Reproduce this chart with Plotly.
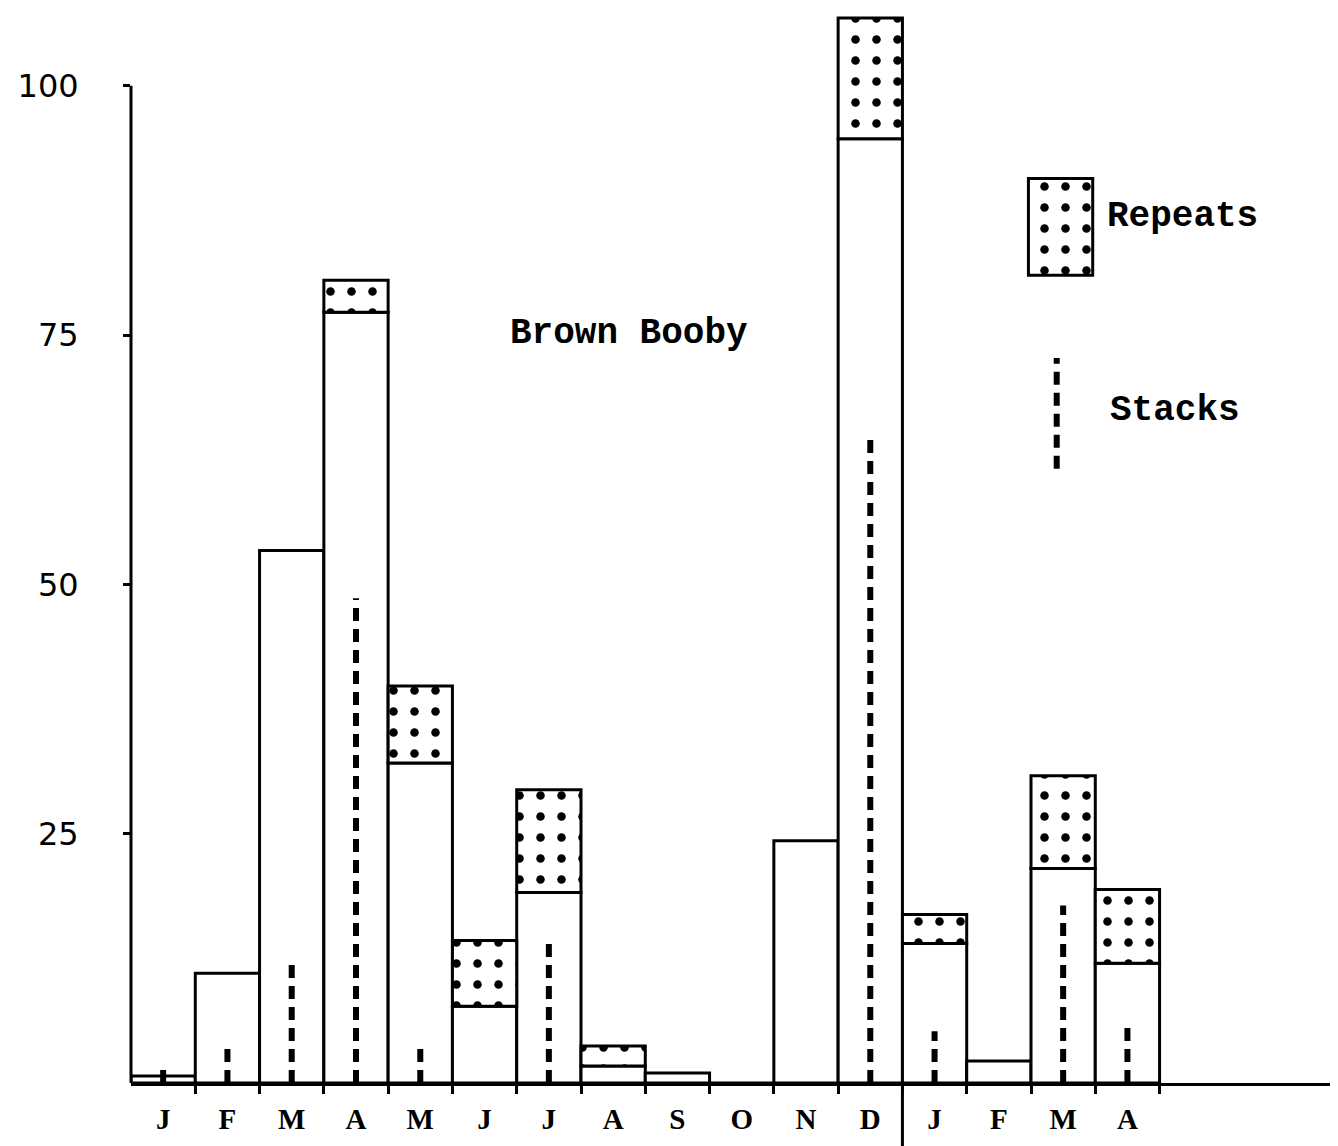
import plotly.graph_objects as go

months = ["J", "F", "M", "A", "M", "J", "J", "A", "S", "O", "N", "D", "J", "F", "M", "A"]
first_captures = [0.7, 11.0, 53.4, 77.3, 32.1, 7.7, 19.1, 1.7, 0.0, 0.0, 24.3, 94.7, 14.0, 2.2, 21.5, 12.0]
repeats = [0.0, 0.0, 0.0, 3.2, 7.7, 6.6, 10.3, 2.0, 1.0, 0.0, 0.0, 12.1, 2.9, 0.0, 9.3, 7.4]
stacks = [1.5, 4.2, 12.4, 48.6, 4.0, 0.0, 14.3, 0.0, 0.0, 0.0, 0.0, 64.7, 5.2, 0.0, 17.8, 6.2]
y_ticks = [25, 50, 75, 100]

xs = list(range(len(months)))
MONO = "Liberation Mono"
LW = 3
DOTS = dict(shape=".", fgcolor="black", bgcolor="white", fgopacity=1,
            size=21, solidity=0.13, fillmode="replace")
DASH = dict(color="black", width=6, dash="13px,8px")

fig = go.Figure()

# first captures (open bars)
fig.add_trace(go.Bar(
    x=xs, y=first_captures, width=1.0,
    marker=dict(color="white", line=dict(color="black", width=LW)),
    showlegend=False, cliponaxis=False,
))

# repeats (dotted) stacked on top
rx = [x for x, r in zip(xs, repeats) if r > 0]
ry = [r for r in repeats if r > 0]
rb = [b for b, r in zip(first_captures, repeats) if r > 0]
fig.add_trace(go.Bar(
    x=rx, y=ry, base=rb, width=1.0,
    marker=dict(color="white", line=dict(color="black", width=LW), pattern=DOTS),
    showlegend=False, cliponaxis=False,
))

# stacks (dashed verticals)
sx, sy = [], []
for x, s in zip(xs, stacks):
    if s > 0:
        sx += [x, x, None]
        sy += [0, s, None]
fig.add_trace(go.Scatter(
    x=sx, y=sy, mode="lines", line=DASH,
    showlegend=False, cliponaxis=False,
))

# legend key: Repeats box
fig.add_trace(go.Bar(
    x=[13.96], y=[9.7], base=[81.0], width=1.0,
    marker=dict(color="white", line=dict(color="black", width=LW), pattern=DOTS),
    showlegend=False,
))
# legend key: Stacks line
fig.add_trace(go.Scatter(
    x=[13.9, 13.9], y=[61.6, 72.7], mode="lines", line=DASH,
    showlegend=False,
))

fig.add_annotation(x=14.65, y=86.9, text="<b>Repeats</b>", showarrow=False,
                   xanchor="left", font=dict(family=MONO, size=36, color="black"))
fig.add_annotation(x=14.7, y=67.4, text="<b>Stacks</b>", showarrow=False,
                   xanchor="left", font=dict(family=MONO, size=36, color="black"))
fig.add_annotation(x=7.24, y=75.2, text="<b>Brown Booby</b>", showarrow=False,
                   font=dict(family=MONO, size=36, color="black"))

# y axis line 0..100
fig.add_shape(type="line", xref="x domain", x0=0, x1=0, yref="y", y0=0, y1=100,
              line=dict(color="black", width=LW))
# year separator below the axis
fig.add_shape(type="line", xref="x", x0=11.5, x1=11.5, yref="paper", y0=0, y1=-0.08,
              line=dict(color="black", width=LW))

fig.update_layout(
    width=1338, height=1146,
    margin=dict(l=123, r=0, t=0, b=71),
    plot_bgcolor="white", paper_bgcolor="white",
    barmode="overlay",
    xaxis=dict(
        range=[-0.5, 18.4], tickmode="array", tickvals=xs, ticktext=months,
        ticks="", showgrid=False, zeroline=False, showline=True,
        linecolor="black", linewidth=LW, automargin=False,
        tickfont=dict(family="Liberation Serif", size=29, color="black", weight="bold"),
        ticklabelstandoff=8,
        minor=dict(tickmode="array", tickvals=[i + 0.5 for i in xs],
                   ticks="outside", ticklen=8, tickwidth=LW, tickcolor="black"),
    ),
    yaxis=dict(
        range=[0, 107.8], tickmode="array", tickvals=y_ticks,
        ticktext=[str(v) for v in y_ticks],
        ticks="outside", ticklen=7, tickwidth=LW, tickcolor="black",
        showgrid=False, zeroline=False, showline=False, automargin=False,
        tickfont=dict(family="DejaVu Sans", size=32, color="black"),
        ticklabelstandoff=38,
    ),
)

fig.write_html("out.html")
